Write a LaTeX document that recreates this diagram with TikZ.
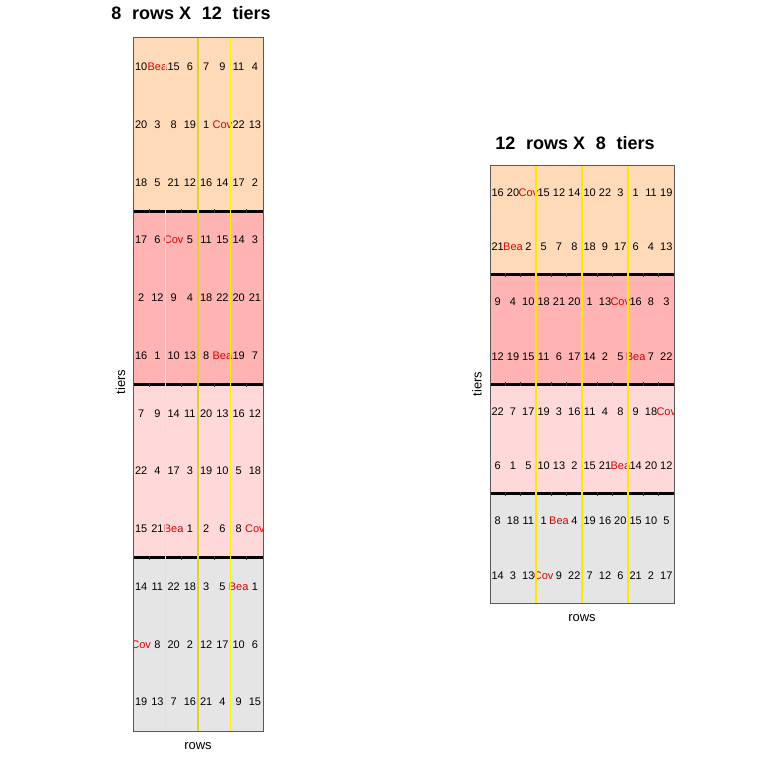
\documentclass[tikz,border=0pt]{standalone}
\usepackage{fontspec}
\setmainfont{Liberation Sans}
\definecolor{grpA}{RGB}{255,218,185}
\definecolor{grpB}{RGB}{255,179,179}
\definecolor{grpC}{RGB}{255,217,217}
\definecolor{grpD}{RGB}{229,229,229}
\definecolor{tagred}{RGB}{220,0,0}
\newcommand{\hi}[1]{\textcolor{tagred}{#1}}
\tikzset{
  cell/.style={inner sep=0pt, font=\fontsize{11}{13}\selectfont},
  ptitle/.style={anchor=base, font=\fontsize{18}{21}\selectfont\bfseries},
  axlabel/.style={font=\fontsize{13}{15}\selectfont},
  frame/.style={draw=black!65, line width=1},
  sep/.style={line width=3},
  slot/.style={line width=1.3, yellow!90!orange}
}
\begin{document}
\begin{tikzpicture}[x=1pt, y=-1pt]
	
	\useasboundingbox (0,0) rectangle (768,768);
	
	% left panel: 8 rows x 12 tiers
	\fill[grpA] (133,38) rectangle (263,211.25);
	\fill[grpB] (133,211.25) rectangle (263,384.5);
	\fill[grpC] (133,384.5) rectangle (263,557.75);
	\fill[grpD] (133,557.75) rectangle (263,731);
	\begin{scope}
		\clip (133,38) rectangle (263,731);
		\foreach \row [count=\j] in {
			{10,\hi{Bea},15,6,7,9,11,4},
			{20,3,8,19,1,\hi{Cov},22,13},
			{18,5,21,12,16,14,17,2},
			{17,6,\hi{Cov},5,11,15,14,3},
			{2,12,9,4,18,22,20,21},
			{16,1,10,13,8,\hi{Bea},19,7},
			{7,9,14,11,20,13,16,12},
			{22,4,17,3,19,10,5,18},
			{15,21,\hi{Bea},1,2,6,8,\hi{Cov}},
			{14,11,22,18,3,5,\hi{Bea},1},
			{\hi{Cov},8,20,2,12,17,10,6},
			{19,13,7,16,21,4,9,15}}
		{
			\foreach \v [count=\i] in \row
				\node[cell] (L-\j-\i) at ({133+16.25*(\i-0.5)}, {38+57.75*(\j-0.5)}) {\v};
		}
	\end{scope}
	\foreach \y in {211.25,384.5,557.75} {
		\draw[sep] (133,\y) -- (263,\y);
		\foreach \i in {1,...,7}
			\draw[line width=0.6, black!80] ({133+16.25*\i},\y-2) -- ({133+16.25*\i},\y+2);
	}
	\draw[line width=0.9, yellow!85] (165.5,38) -- (165.5,731);
	\draw[line width=1.5, yellow!85!black] (198,38) -- (198,731);
	\draw[line width=1.2, yellow] (230.5,38) -- (230.5,731);
	\draw[frame] (133,38) rectangle (263,731);
	\node[ptitle] (titleL) at (191,20) {8\hspace{0.6em}rows X\hspace{0.6em}12\hspace{0.6em}tiers};
	\node[axlabel] (rowsL) at (198,746) {rows};
	\node[axlabel, rotate=90] (tiersL) at (120.5,382) {tiers};
	
	% right panel: 12 rows x 8 tiers
	\fill[grpA] (490,165) rectangle (674,274.5);
	\fill[grpB] (490,274.5) rectangle (674,384);
	\fill[grpC] (490,384) rectangle (674,493.5);
	\fill[grpD] (490,493.5) rectangle (674,603);
	\begin{scope}
		\clip (490,165) rectangle (674,603);
		\foreach \row [count=\j] in {
			{16,20,\hi{Cov},15,12,14,10,22,3,1,11,19},
			{21,\hi{Bea},2,5,7,8,18,9,17,6,4,13},
			{9,4,10,18,21,20,1,13,\hi{Cov},16,8,3},
			{12,19,15,11,6,17,14,2,5,\hi{Bea},7,22},
			{22,7,17,19,3,16,11,4,8,9,18,\hi{Cov}},
			{6,1,5,10,13,2,15,21,\hi{Bea},14,20,12},
			{8,18,11,1,\hi{Bea},4,19,16,20,15,10,5},
			{14,3,13,\hi{Cov},9,22,7,12,6,21,2,17}}
		{
			\foreach \v [count=\i] in \row
				\node[cell] (R-\j-\i) at ({490+15.333*(\i-0.5)}, {165+54.75*(\j-0.5)}) {\v};
		}
	\end{scope}
	\foreach \y in {274.5,384,493.5} {
		\draw[sep] (490,\y) -- (674,\y);
		\foreach \i in {1,...,11}
			\draw[line width=0.6, black!80] ({490+15.333*\i},\y-2) -- ({490+15.333*\i},\y+2);
	}
	\foreach \x in {536,582,628}
		\draw[slot] (\x,165) -- (\x,603);
	\draw[frame] (490,165) rectangle (674,603);
	\node[ptitle] (titleR) at (575,149) {12\hspace{0.6em}rows X\hspace{0.6em}8\hspace{0.6em}tiers};
	\node[axlabel] (rowsR) at (582,618) {rows};
	\node[axlabel, rotate=90] (tiersR) at (477,384) {tiers};
	
\end{tikzpicture}
\end{document}
